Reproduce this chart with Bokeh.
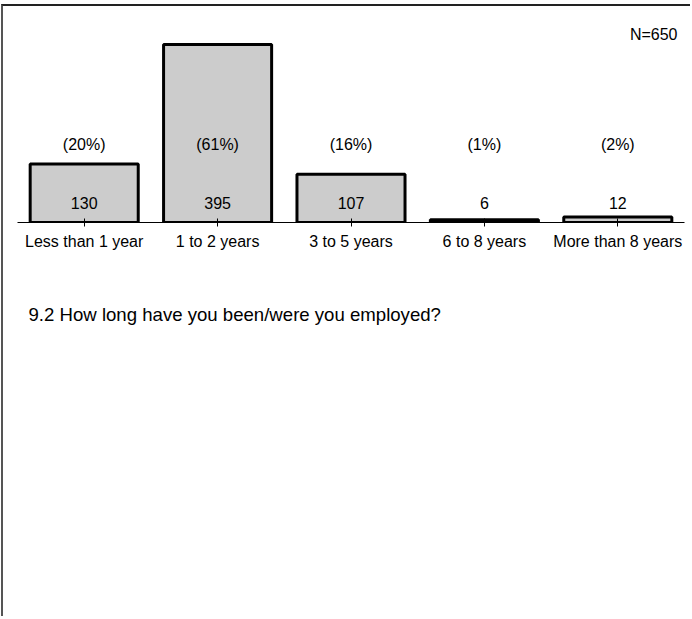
from bokeh.plotting import figure
from bokeh.models import FactorRange, Range1d, Label, Title, ColumnDataSource
from bokeh.embed import file_html
from bokeh.resources import INLINE
from bokeh.core.properties import value

categories = ["Less than 1 year", "1 to 2 years", "3 to 5 years", "6 to 8 years", "More than 8 years"]
counts = [130, 395, 107, 6, 12]
percent_labels = ["(20%)", "(61%)", "(16%)", "(1%)", "(2%)"]
n_label = "N=650"
title_text = "9.2 How long have you been/were you employed?"

FONT = "Liberation Sans"

source = ColumnDataSource(dict(
    cat=categories,
    count=counts,
    count_text=[str(c) for c in counts],
    pct=percent_labels,
    base=[0] * len(categories),
))

p = figure(
    width=689, height=612,
    x_range=FactorRange(*categories, range_padding=0),
    y_range=Range1d(0, 479),
    output_backend="svg", toolbar_location=None,
    y_axis_location=None,
    min_border_left=14, min_border_right=8, min_border_top=0, min_border_bottom=396,
    styles={"border-left": "2px solid #555555", "border-top": "2px solid #222222",
            "margin-top": "4px", "margin-left": "1px"},
)
p.outline_line_color = None
p.xgrid.visible = False
p.ygrid.visible = False
p.background_fill_color = "white"
p.border_fill_color = "white"

p.vbar(x="cat", top="count", width=0.81, source=source,
       fill_color="#cccccc", line_color="black", line_width=3)

p.text(x="cat", y="base", text="count_text", source=source,
       text_align="center", text_baseline="middle", y_offset=-20,
       text_font=value(FONT), text_font_size="16px", text_color="black")
p.text(x="cat", y="base", text="pct", source=source,
       text_align="center", text_baseline="middle", y_offset=-78,
       text_font=value(FONT), text_font_size="16px", text_color="black")

ax = p.xaxis[0]
ax.axis_line_color = "black"
ax.axis_line_width = 1
ax.major_tick_in = 4
ax.major_tick_out = 4
ax.major_tick_line_color = "black"
ax.minor_tick_line_color = None
ax.major_label_text_font = FONT
ax.major_label_text_font_size = "16px"
ax.major_label_text_color = "black"
ax.major_label_standoff = 6

# N label at the right end of the category range
p.add_layout(Label(x=len(categories), y=0, x_offset=-7, y_offset=188, text=n_label,
                   text_align="right", text_baseline="middle",
                   text_font=FONT, text_font_size="16px", text_color="black"))

# question text below the axis
p.add_layout(Title(text=title_text, align="left", offset=11, standoff=98,
                   text_font=FONT, text_font_size="18.6px", text_font_style="normal",
                   text_color="black"), "below")

open("out.html", "w").write(file_html(p, INLINE))
